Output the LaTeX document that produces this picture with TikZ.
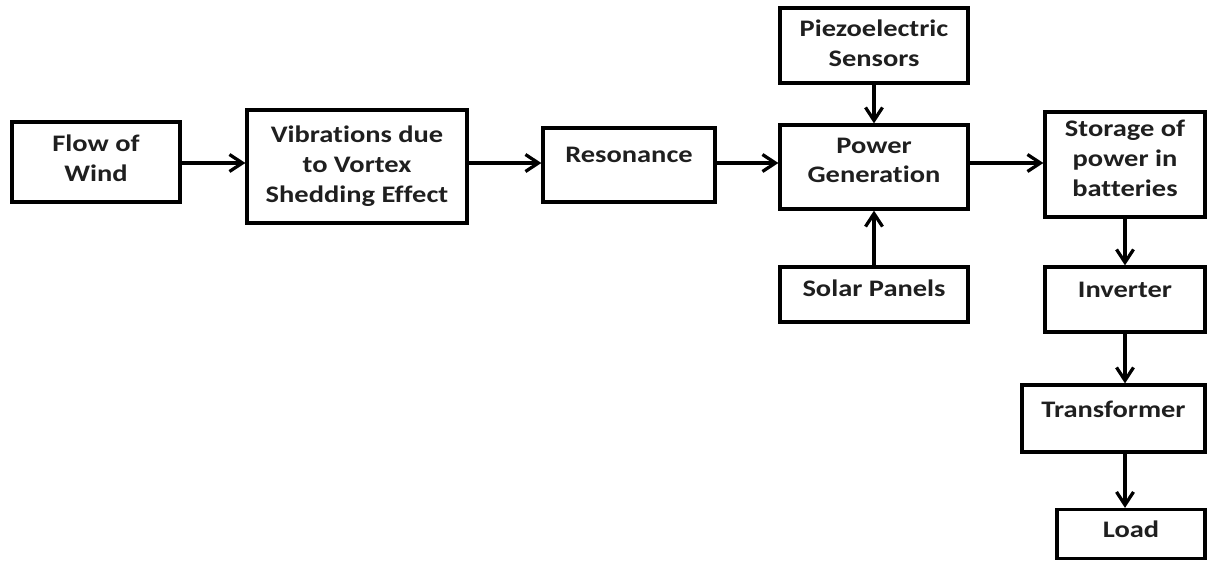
\documentclass[tikz,border=0pt]{standalone}
\usepackage{fontspec}
\setmainfont{Carlito}[FakeStretch=1.2, Ligatures=NoCommon]
\usepackage{tikz}
\usetikzlibrary{arrows.meta}
\tikzset{blk/.style={draw=black, line width=0.065cm, inner sep=0pt, text=black!88,
  font=\bfseries\fontsize{13.5}{17}\selectfont}}
\tikzset{arr/.style={draw=black, line width=0.065cm, -{Straight Barb[length=0.26cm,width=0.34cm]}}}
\newcommand{\lift}[2]{\raisebox{#1}[\height][\depth]{\begin{tabular}{@{}c@{}}#2\end{tabular}}}

\begin{document}
\begin{tikzpicture}[x=0.02cm, y=-0.02cm]
\useasboundingbox (0,0) rectangle (1208,561);
% main row
\node[blk, minimum width=3.36cm, minimum height=1.6cm] (flow) at (96,162) {\lift{1pt}{Flow of\\Wind}};
\node[blk, minimum width=4.4cm, minimum height=2.26cm] (vib) at (357,166.5) {\lift{0pt}{Vibrations due\\to Vortex\\Shedding Effect}};
\node[blk, minimum width=3.44cm, minimum height=1.48cm] (res) at (629,165) {\lift{5pt}{Resonance}};
\node[blk, minimum width=3.76cm, minimum height=1.68cm] (pow) at (874,167) {\lift{2.8pt}{Power\\Generation}};
\node[blk, minimum width=3.2cm, minimum height=2.1cm] (st) at (1125,164.5) {\lift{2.3pt}{Storage of\\power in\\batteries}};
% sources
\node[blk, minimum width=3.76cm, minimum height=1.5cm] (piezo) at (874,45.5) {\lift{0pt}{Piezoelectric\\Sensors}};
\node[blk, minimum width=3.76cm, minimum height=1.1cm] (solar) at (874,294.5) {\lift{2.3pt}{Solar Panels}};
% output column
\node[blk, minimum width=3.2cm, minimum height=1.3cm] (inv) at (1125,299.5) {\lift{4.5pt}{Inverter}};
\node[blk, minimum width=3.66cm, minimum height=1.34cm] (tr) at (1113.5,418.5) {\lift{4pt}{Transformer}};
\node[blk, minimum width=2.96cm, minimum height=0.98cm] (load) at (1131,534) {\lift{1.2pt}{Load}};

\coordinate (row) at (0,163);
\foreach \a/\b in {flow/vib, vib/res, res/pow, pow/st} {
 \draw[arr] (\a.east |- row) -- (\b.west |- row);
}
\draw[arr] (piezo) -- (pow);
\draw[arr] (solar) -- (pow);
\draw[arr] (st) -- (inv);
\draw[arr] (inv.south) -- (inv.south |- tr.north);
\draw[arr] (inv.south |- tr.south) -- (inv.south |- load.north);
\end{tikzpicture}
\end{document}
